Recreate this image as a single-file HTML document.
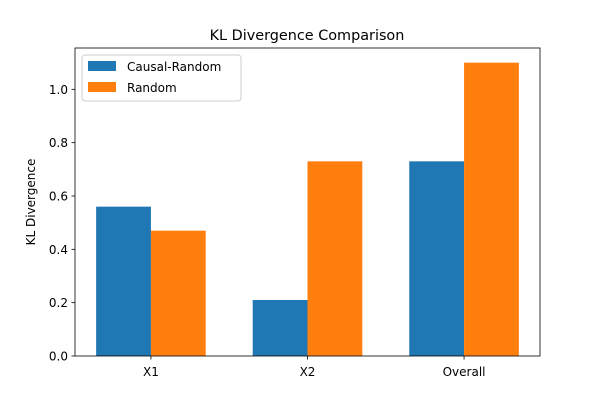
<!DOCTYPE html>
<html><head><meta charset="utf-8"><style>
body{margin:0;background:#fff;}
svg text{font-family:"DejaVu Sans","Liberation Sans",sans-serif;}
</style></head><body>
<svg id="chart" width="600" height="400" xmlns="http://www.w3.org/2000/svg">
<rect width="600" height="400" fill="#fff"/>
<text x="307" y="40" font-size="14.4" text-anchor="middle">KL Divergence Comparison</text>
<g id="bars"></g>
<g id="axes"></g>
<text transform="translate(35,202) rotate(-90)" font-size="12" text-anchor="middle">KL Divergence</text>
<g>
<rect x="82" y="55" width="159" height="46" fill="#fff" stroke="#ccc" rx="3"/>
<rect x="88" y="61" width="28" height="10" fill="#1f77b4"/>
<text x="127" y="71" font-size="12">Causal-Random</text>
<rect x="88" y="82" width="28" height="10" fill="#ff7f0e"/>
<text x="127" y="92" font-size="12">Random</text>
</g>
</svg>
<script>
const categories = ["X1","X2","Overall"];
const causalRandom = [0.56,0.21,0.73];
const randomVals = [0.47,0.73,1.10];
const yTicks = [0.0,0.2,0.4,0.6,0.8,1.0];

const L=75,R=540,T=48,B=356;
const xMin=-0.485,xMax=2.485,yMin=0,yMax=1.155;
const xs=v=>L+(v-xMin)/(xMax-xMin)*(R-L);
const ys=v=>B-(v-yMin)/(yMax-yMin)*(B-T);
const bw=0.35;
const NS="http://www.w3.org/2000/svg";
const bars=document.getElementById('bars');
const axes=document.getElementById('axes');
function mk(tag,attrs,parent){const e=document.createElementNS(NS,tag);for(const k in attrs)e.setAttribute(k,attrs[k]);parent.appendChild(e);return e;}
categories.forEach((c,i)=>{
  const a=mk('rect',{x:xs(i-bw),y:ys(causalRandom[i]),width:xs(i)-xs(i-bw),height:ys(0)-ys(causalRandom[i]),fill:'#1f77b4'},bars);
  
  
  const b=mk('rect',{x:xs(i),y:ys(randomVals[i]),width:xs(i+bw)-xs(i),height:ys(0)-ys(randomVals[i]),fill:'#ff7f0e'},bars);
  
  
  mk('line',{x1:xs(i),x2:xs(i),y1:B,y2:B+3.5,stroke:'#000','stroke-width':0.8},axes);
  const t=mk('text',{x:xs(i),y:B+20,'font-size':12,'text-anchor':'middle'},axes);
  t.textContent=c;
  
  
});
yTicks.forEach(v=>{
  mk('line',{x1:L-3.5,x2:L,y1:ys(v),y2:ys(v),stroke:'#000','stroke-width':0.8},axes);
  const t=mk('text',{x:L-7,y:ys(v)+4.5,'font-size':12,'text-anchor':'end'},axes);
  t.textContent=v.toFixed(1);
  
  
});
const f=mk('rect',{x:L,y:T,width:R-L,height:B-T,fill:'none',stroke:'#000','stroke-width':0.8},axes);


</script>
</body></html>
